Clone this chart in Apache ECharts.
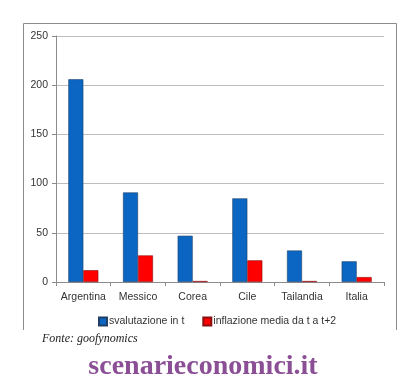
<!DOCTYPE html>
<html><head><meta charset="utf-8">
<script src="https://cdn.jsdelivr.net/npm/echarts@6/dist/echarts.min.js"></script>
<style>html,body{margin:0;padding:0;background:#fff}#c{width:406px;height:388px}</style>
</head><body><div id="c"></div>
<script>
const categories = ['Argentina','Messico','Corea','Cile','Tailandia','Italia'];
const svalutazione = [206, 91, 47, 85, 32, 21];
const inflazione = [12, 27, 1, 22, 1, 5];
const yTicks = [0, 50, 100, 150, 200, 250];
const seriesNames = ['svalutazione in t', 'inflazione media da t a t+2'];

const chart = echarts.init(document.getElementById('c'), null, {renderer:'canvas'});
const font = 'Liberation Sans, Arial, sans-serif';
chart.setOption({
  animation:false,
  backgroundColor:'#fff',
  grid:{left:56,right:22,top:36,bottom:106},
  legend:{
    bottom:56, left:93, itemWidth:8, itemHeight:8, itemGap:18,
    icon:'rect',
    textStyle:{fontFamily:font,fontSize:10.5,color:'#333',padding:[0,0,0,-3]},
    data:seriesNames
  },
  xAxis:{
    type:'category', data:categories,
    axisLine:{lineStyle:{color:'#8c8c8c'}},
    axisTick:{show:true,length:4,lineStyle:{color:'#8c8c8c'}},
    axisLabel:{fontFamily:font,fontSize:10.5,color:'#333',margin:10,interval:0}
  },
  yAxis:{
    type:'value', min:yTicks[0], max:yTicks[yTicks.length-1], interval:50,
    axisLine:{show:true,lineStyle:{color:'#8c8c8c'}},
    axisTick:{show:true,length:4,lineStyle:{color:'#8c8c8c'}},
    axisLabel:{fontFamily:font,fontSize:10.5,color:'#333',margin:8},
    splitLine:{lineStyle:{color:'#bdbdbd'}}
  },
  series:[
    {name:seriesNames[0],type:'bar',data:svalutazione,barWidth:15,barGap:'0%',
     itemStyle:{color:'#0a66c2',borderColor:'#1f3f66',borderWidth:0.6}},
    {name:seriesNames[1],type:'bar',data:inflazione,barWidth:15,
     itemStyle:{color:'#ff0000',borderColor:'#8a1010',borderWidth:0.6}}
  ],
  graphic:[
    {type:'polyline',shape:{points:[[23.5,330],[23.5,23.5],[396.5,23.5],[396.5,330]]},
     style:{stroke:'#8c8c8c',lineWidth:1,fill:null},silent:true},
    {type:'text',left:42,top:333,style:{text:'Fonte: goofynomics',font:'italic 12px "Liberation Serif", "Times New Roman", serif',fill:'#222'}},
    {type:'text',left:'center',top:353,style:{text:'scenarieconomici.it',font:'bold 28px "Liberation Serif", "Times New Roman", serif',fill:'#8b4f96'}}
  ]
});
</script></body></html>
